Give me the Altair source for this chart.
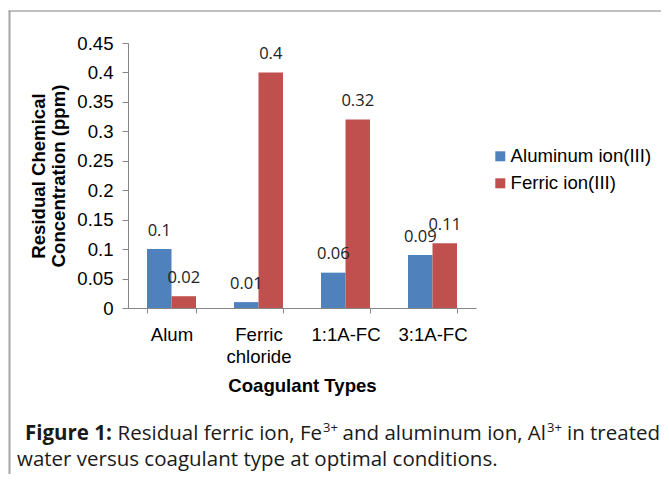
import altair as alt
import pandas as pd

# ---- data ----
categories = ["Alum", "Ferric chloride", "1:1A-FC", "3:1A-FC"]
series_names = ["Aluminum ion(III)", "Ferric ion(III)"]
aluminum_ion = [0.10, 0.01, 0.06, 0.09]
ferric_ion = [0.02, 0.40, 0.32, 0.11]
y_ticks = [0, 0.05, 0.1, 0.15, 0.2, 0.25, 0.3, 0.35, 0.4, 0.45]
colors = ["#4F81BD", "#C0504D"]

y_title = ["Residual Chemical", "Concentration (ppm)"]
x_title = "Coagulant Types"
cap_bold = "Figure 1:"
cap_1a = "Residual ferric ion, Fe"
cap_sup = "3+"
cap_1b = "and aluminum ion, Al"
cap_1c = "in treated"
cap_2 = "water versus coagulant type at optimal conditions."

rows = []
for i, c in enumerate(categories):
    rows.append({"type": c, "series": series_names[0], "value": aluminum_ion[i]})
    rows.append({"type": c, "series": series_names[1], "value": ferric_ion[i]})
df = pd.DataFrame(rows)

W, H = 348, 265
PL, PT, PR, PB = 120, 35, 185, 166
AX = "#868686"

x_enc = alt.X(
    "type:N", sort=categories, title=x_title,
    scale=alt.Scale(paddingInner=0.437, paddingOuter=0.2185),
    axis=alt.Axis(
        labelAngle=0, tickBand="extent", tickSize=5, tickColor=AX, domainColor=AX,
        labelFont="Liberation Sans", labelFontSize=18.6, labelColor="#000",
        labelBaseline="alphabetic", labelPadding=27, labelLineHeight=22,
        labelExpr="datum.label == 'Ferric chloride' ? ['Ferric', 'chloride'] : datum.label",
        titleFont="Liberation Sans", titleFontSize=18.6, titleFontWeight="bold",
        titleColor="#000", titleBaseline="alphabetic", titleX=W / 2, titleY=83,
        titleAnchor="middle", titleAlign="center",
    ),
)
xoff = alt.XOffset("series:N", sort=series_names,
                   scale=alt.Scale(paddingInner=0, paddingOuter=0))
y_enc = alt.Y(
    "value:Q",
    scale=alt.Scale(domain=[0, 0.45], nice=False, zero=True),
    axis=alt.Axis(
        values=y_ticks, format="~g", grid=False, tickSize=6, tickColor=AX,
        domainColor=AX, labelFont="Liberation Sans", labelFontSize=18.6,
        labelColor="#000", labelPadding=9, labelOverlap=False, labelFlush=False,
        title=y_title,
        titleFont="Liberation Sans", titleFontSize=18.6, titleFontWeight="bold",
        titleColor="#000", titleAngle=-90, titleBaseline="middle",
        titleAlign="center", titleX=-90, titleY=H / 2, titleLineHeight=20,
    ),
)

bars = alt.Chart(df).mark_bar().encode(
    x=x_enc, xOffset=xoff, y=y_enc,
    color=alt.Color(
        "series:N", sort=series_names,
        scale=alt.Scale(domain=series_names, range=colors),
        legend=alt.Legend(
            title=None, orient="none", legendX=363, legendY=104,
            symbolType="square", symbolSize=100, symbolStrokeWidth=0,
            labelFont="Liberation Sans", labelFontSize=18.6, labelColor="#000",
            rowPadding=8, labelOffset=1, padding=0,
        ),
    ),
)

labels = alt.Chart(df).mark_text(
    font="Open Sans", fontSize=16.5, baseline="alphabetic", dy=-13.5, color="#222"
).encode(
    x=x_enc, xOffset=xoff, y=y_enc,
    text=alt.Text("value:Q", format="~g"),
)

CAP = 20.5


def txt(s, x, y, size=CAP, weight="normal", align="left", dy=0):
    return alt.Chart(pd.DataFrame({"t": [s]})).mark_text(
        font="Open Sans", fontSize=size, fontWeight=weight, align=align,
        baseline="alphabetic", color="#1a1a1a", dy=dy,
    ).encode(x=alt.value(x), y=alt.value(y), text="t:N")


frame_df = pd.DataFrame({"k": [0]})
frame_left = alt.Chart(frame_df).mark_rule(color="#a6a6a6", strokeWidth=2).encode(
    x=alt.value(-118.5), y=alt.value(-32), y2=alt.value(H + PB)
)
frame_top = alt.Chart(frame_df).mark_rule(color="#808080", strokeWidth=1).encode(
    x=alt.value(-119.5), x2=alt.value(W + PR), y=alt.value(-32)
)

caption = [
    txt(cap_bold, -103, 397, weight="bold"),
    txt(cap_1a, 194, 397, align="right"),
    txt(cap_sup, 195, 397, size=13, dy=-8),
    txt(cap_1b, 418, 397, align="right"),
    txt(cap_sup, 419, 397, size=13, dy=-8),
    txt(cap_1c, 532, 397, align="right"),
    txt(cap_2, -111, 423),
]

chart = alt.layer(frame_left, frame_top, bars, labels, *caption).properties(
    width=W, height=H,
    padding={"left": PL, "top": PT, "right": PR, "bottom": PB},
    autosize=alt.AutoSizeParams(type="none"),
    background="white",
).configure_view(stroke=None)

chart.save("out.html", embed_options={"renderer": "svg", "actions": False})
